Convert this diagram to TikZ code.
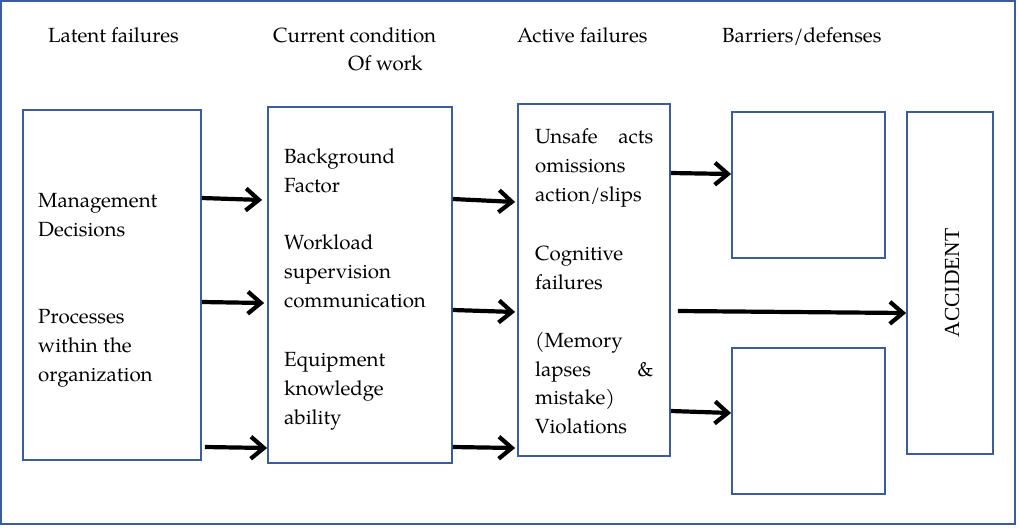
\documentclass[tikz,border=0pt]{standalone}
\usepackage{fontspec}
\setmainfont{TeX Gyre Pagella}
\newfontfamily\accfont{Liberation Serif}
\usetikzlibrary{arrows.meta}
\definecolor{frameblue}{RGB}{56,93,160}
\tikzset{
  box/.style={draw=frameblue, line width=1.8pt, minimum width=#1},
  txt/.style={anchor=base west, inner sep=0pt, align=left, font=\fontsize{20.5}{29}\selectfont},
  head/.style={anchor=base west, inner sep=0pt, align=left, font=\fontsize{20.5}{28}\selectfont},
  arr/.style={line width=4.2pt, -{Straight Barb[length=13pt,width=22pt,line width=4.2pt]}}
}
\begin{document}
\begin{tikzpicture}[x=1pt,y=-1pt]
\useasboundingbox (0,0) rectangle (1019,531);
\draw[frameblue, line width=1.8pt] (1,1) rectangle (1015,524);
% headings (base anchor = last line)
\node[head] (h1) at (48,42) {Latent failures};
\node[head] (h2) at (273,70) {Current condition\\\hspace*{75pt}Of work};
\node[head] (h3) at (517,42) {Active failures};
\node[head] (h4) at (722,42) {Barriers/defenses};
% boxes
\node[box=178pt, minimum height=350pt] (b1) at (112,285) {};
\node[box=184pt, minimum height=356pt] (b2) at (360,285) {};
\node[box=152pt, minimum height=352pt] (b3) at (594,280) {};
\node[box=153pt, minimum height=146pt] (b4) at (808.5,185) {};
\node[box=153pt, minimum height=146pt] (b5) at (808.5,421) {};
\node[box=86pt, minimum height=342pt] (b6) at (950,283) {};
% texts (base anchor = last line)
\node[txt] (t1) at (38,381) {Management\\Decisions\\[58pt]Processes\\within the\\organization};
\node[txt] (t2) at (284,424) {Background\\Factor\\[28pt]Workload\\supervision\\communication\\[30pt]Equipment\\knowledge\\ability};
\node[txt] (t3) at (535,433) {\makebox[118pt][s]{Unsafe\hfill acts}\\omissions\\action/slips\\[30pt]Cognitive\\failures\\[29pt](Memory\\[-0.5pt]\makebox[118pt][s]{lapses\hfill \&}\\[-0.5pt]mistake)\\[-0.5pt]Violations};
\node[rotate=90, inner sep=0pt, font=\accfont\fontsize{21.5}{24}\selectfont] (acc) at (952,283) {ACCIDENT};
% arrows
\draw[arr] ([yshift=87pt]b1.east) -- ([yshift=85pt,xshift=-5pt]b2.west);
\draw[arr] ([yshift=-17pt]b1.east) -- ([yshift=-18pt,xshift=-3pt]b2.west);
\draw[arr] ([xshift=3pt,yshift=-162pt]b1.east) -- ([yshift=-163pt]b2.west);
\draw[arr] ([yshift=86pt]b2.east) -- ([yshift=78pt,xshift=-2pt]b3.west);
\draw[arr] ([yshift=-25pt]b2.east) -- ([yshift=-32pt,xshift=-2pt]b3.west);
\draw[arr] ([yshift=-162pt]b2.east) -- ([yshift=-168pt,xshift=-2pt]b3.west);
\draw[arr] ([yshift=107pt]b3.east) -- ([yshift=11pt]b4.west);
\draw[arr] ([yshift=-131pt]b3.east) -- ([yshift=8pt]b5.west);
\draw[arr] ([xshift=7pt,yshift=-31pt]b3.east) -- ([yshift=-30pt]b6.west);
\end{tikzpicture}
\end{document}
